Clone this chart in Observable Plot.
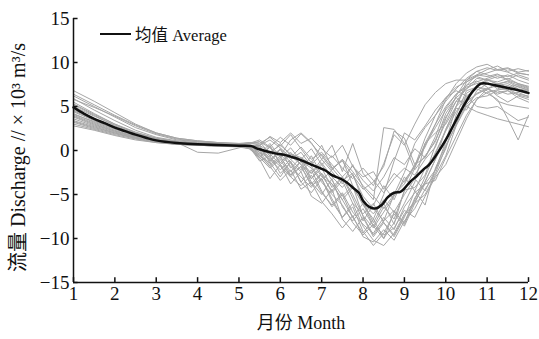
<!DOCTYPE html>
<html>
<head>
<meta charset="utf-8">
<script src="https://cdn.jsdelivr.net/npm/d3@7"></script>
<script src="https://cdn.jsdelivr.net/npm/@observablehq/plot@0.6"></script>
<style>
  body { margin: 0; background: #fff; }
  #wrap { position: relative; width: 539px; height: 339px; }
  #legend { position: absolute; left: 100px; top: 22px; font: 16.5px "Liberation Serif", "Noto Sans CJK SC", serif; color: #111; display: flex; align-items: center; }
  #legend span.line { display: inline-block; width: 31px; border-top: 2.5px solid #111; margin-right: 4px; }
</style>
</head>
<body>
<div id="wrap"><div id="legend"><span class="line"></span><span id="legtext"></span></div></div>
<script>
const xTicks = [1,2,3,4,5,6,7,8,9,10,11,12];
const yTicks = [-15,-10,-5,0,5,10,15];
const xLabel = "月份 Month";
const yLabel = "流量 Discharge // × 10³ m³/s";
const legendLabel = "均值 Average";

const grayMonths = [1,1.5,2,2.5,3,3.5,4,4.5,5,5.25,5.5,5.75,6,6.25,6.5,6.75,7,7.25,7.5,7.75,8,8.25,8.5,8.75,9,9.25,9.5,9.75,10,10.25,10.5,10.75,11,11.25,11.5,11.75,12];

const s1  = [6.8,5.6,4.3,3.0,2.0,1.4,1.1,0.9,0.8, 0.8,1.2,0.4,1.5,0.6,1.9,0.8,-0.6,-2.2,-1.0,-4.0,-7.5,-9.6,-8.0,-5.0,-2.5,0.8,2.6,4.0,5.6,7.0, 8.2,9.0,9.4,9.1,9.3,8.8,8.6];
const s2  = [6.2,5.0,3.8,2.6,1.8,1.2,1.0,0.8,0.7, 0.6,-0.2,-1.6,-0.6,-2.8,-1.8,-4.0,-3.2,-5.5,-7.6,-6.4,-9.2,-10.8,-9.4,-7.2,-8.6,-6.0,-3.5,-1.0,2.4,5.0, 7.8,8.5,8.8,9.2,8.9,8.4,8.0];
const s3  = [5.8,4.9,3.9,2.8,1.9,1.3,1.0,0.9,0.8, 0.9,0.8,1.5,0.5,1.8,0.2,-1.4,0.6,-2.0,-3.4,-2.6,-5.8,-8.2,-6.0,-8.4,-4.5,-4.2,-2.8,0.6,3.2,5.6, 7.0,8.2,8.0,7.8,8.2,7.6,7.3];
const s4  = [5.5,4.2,3.0,2.0,1.3,0.9,0.7,0.6,0.5, 0.4,-1.0,-3.2,-1.6,-3.8,-2.4,-5.2,-6.0,-4.4,-7.8,-9.2,-7.6,-9.8,-8.2,-9.6,-7.4,-6.0,-5.0,-2.8,-0.6,2.8, 6.5,7.2,7.0,6.6,6.8,6.3,6.0];
const s5  = [5.3,4.1,3.0,2.1,1.4,1.0,0.8,0.7,0.6, 0.8,1.0,0.3,-0.6,1.2,2.0,0.9,-1.0,0.6,-2.4,0.8,-2.6,-4.0,-1.5,1.8,0.6,3.0,5.2,6.6,7.6,8.0, 8.0,8.6,8.4,8.7,8.0,7.6,7.2];
const s6  = [5.0,3.9,2.9,2.0,1.4,1.0,0.8,0.7,0.6, 0.5,-0.6,-1.4,-3.0,-1.2,-3.6,-2.2,-4.6,-6.4,-5.0,-7.6,-9.4,-7.8,-10.0,-7.0,-8.2,-5.4,-3.6,-1.0,1.4,3.5, 5.9,7.4,8.1,7.5,7.9,7.4,7.0];
const s7  = [4.8,3.6,2.6,1.8,1.2,0.9,0.8,0.7,0.6, 0.6,0.4,-1.2,0.2,-1.0,-2.2,-0.6,-2.8,-4.6,-3.0,-5.4,-8.0,-6.2,-4.0,-5.6,-3.0,-4.6,-2.0,-0.4,2.4,4.8, 4.6,6.8,7.6,7.2,6.9,7.3,6.8];
const s8  = [4.6,3.6,2.7,1.9,1.3,0.9,-0.2,-0.3,0.3, 0.6,-0.4,-1.8,-3.4,-2.2,-4.4,-3.6,-5.8,-7.2,-8.8,-7.4,-9.8,-10.4,-9.0,-10.2,-8.0,-6.6,-4.4,-2.6,0.4,3.0, 5.2,6.5,7.0,6.4,6.8,6.0,5.5];
const s9  = [4.4,3.4,2.5,1.7,1.1,0.8,0.7,0.6,0.5, 0.4,0.6,-1.4,0.2,-2.0,-0.8,-3.2,-1.6,-3.4,-5.2,-4.0,-6.2,-7.8,-5.0,-1.2,2.0,1.2,2.8,4.6,6.0,6.8, 6.2,5.0,4.8,5.0,4.2,3.4,3.8];
const s10 = [4.2,3.2,2.4,1.7,1.2,0.9,0.7,0.6,0.5, 0.5,-0.8,0.6,-1.6,-2.8,-1.2,-3.6,-5.0,-3.2,-6.4,-8.0,-6.6,-8.6,-6.4,-7.8,-4.6,-2.0,0.8,3.0,5.0,6.4, 7.4,7.9,7.2,6.2,5.5,6.2,5.8];
const s11 = [4.0,3.1,2.3,1.6,1.1,0.8,0.7,0.6,0.5, 0.4,-1.2,-0.6,-2.6,-1.4,-3.6,-4.8,-3.2,-5.8,-7.6,-6.0,-8.6,-10.2,-10.8,-9.4,-7.2,-5.8,-3.8,-2.2,0.2,4.0, 6.8,7.2,6.8,5.6,5.2,5.0,4.8];
const s12 = [3.8,2.9,2.2,1.5,1.0,0.8,0.7,0.6,0.6, 0.7,1.0,-0.4,0.8,-0.6,-1.6,-2.6,-1.0,-2.4,-3.8,-1.6,-4.2,-5.6,2.6,2.4,0.8,-2.2,-0.6,1.0,4.2,6.0, 5.0,4.4,4.0,3.6,3.3,3.0,2.7];
const s13 = [3.6,2.8,2.1,1.5,1.0,0.7,0.6,0.5,0.5, 0.3,-0.8,-2.0,-1.0,-3.0,-4.0,-2.8,-4.8,-6.2,-4.8,-7.0,-8.4,-9.4,-7.6,-9.0,-6.4,-4.8,-3.8,-3.4,-0.8,1.6, 4.0,5.8,6.6,6.9,7.0,6.4,6.2];
const s14 = [3.4,2.7,2.0,1.4,1.0,0.7,0.6,0.5,0.5, 0.5,-0.2,-1.0,-0.4,-1.8,-3.0,-4.2,-2.6,-3.8,-5.6,-7.6,-6.0,-8.6,-10.0,-8.2,-6.0,-3.6,0.8,2.0,3.0,5.0, 6.2,7.0,6.5,5.8,3.6,1.2,4.0];
const s15 = [3.2,2.5,1.9,1.4,1.0,0.8,0.7,0.6,0.5, 0.4,0.2,-0.4,-1.6,-0.4,-0.8,-1.6,-0.4,-2.0,-1.2,-2.8,-4.4,-3.6,-1.8,2.2,1.4,-1.6,-0.8,1.2,3.8,5.6, 5.6,6.4,7.0,7.4,7.6,7.0,6.8];
const s16 = [3.0,2.4,1.8,1.3,0.9,0.7,0.6,0.5,0.4, 0.2,-0.8,0.4,-1.4,-0.2,-1.6,-3.2,-2.0,-4.2,-3.0,-5.0,-7.4,-8.8,-7.0,-5.2,-3.4,-1.8,0.6,2.6,4.6,6.0, 7.0,7.8,8.2,8.6,8.4,8.8,8.6];
const s17 = [2.8,2.3,1.7,1.2,0.9,0.7,0.6,0.5,0.5, 0.6,0.4,-0.6,0.1,-1.4,-2.4,-1.2,-3.0,-3.8,-5.6,-4.2,-6.0,-7.2,-5.6,-7.0,-5.0,-3.2,-4.6,-2.2,1.0,5.0, 7.4,8.6,9.2,9.6,9.0,9.3,9.0];
const s18 = [5.9,4.6,3.4,2.3,1.5,1.1,0.9,0.8,0.7, 0.9,0.6,1.6,0.9,2.0,0.8,1.4,0.2,-0.8,0.6,-1.8,-3.0,-2.4,-4.4,-2.6,-3.6,-1.6,0.4,3.0,5.8,7.6, 8.8,9.5,9.8,9.2,9.4,8.9,9.1];
const s19 = [4.5,3.5,2.6,1.8,1.2,0.9,0.8,0.7,0.6, 0.3,-0.4,0.8,-0.8,0.3,-1.2,-2.6,-1.4,-3.0,-4.2,-2.8,-5.2,-6.6,-8.0,-6.8,-8.4,-5.6,-3.0,-0.2,2.2,4.4, 6.0,7.2,8.0,8.4,8.1,8.6,8.2];
const s20 = [5.2,4.0,2.8,1.9,1.3,1.0,0.8,0.7,0.6, 0.7,0.0,-1.0,-2.2,-1.0,-0.2,-1.8,-3.4,-2.2,-1.0,-2.4,-4.0,-5.2,-6.6,-5.0,-3.8,-1.8,1.4,4.0,6.0,7.2, 7.8,8.4,8.0,7.6,7.8,7.2,6.9];
const s21 = [3.9,3.0,2.2,1.6,1.1,0.8,0.7,0.6,0.5, 0.2,-0.6,-1.8,-0.8,-2.4,-1.2,-2.0,-3.6,-5.0,-6.2,-8.2,-9.6,-8.4,-9.6,-8.8,-6.8,-7.6,-5.2,-3.0,-1.6,1.0, 3.6,5.8,7.0,7.6,7.2,7.5,7.1];
const s22 = [6.4,5.2,4.0,2.9,2.0,1.4,1.1,0.9,0.7, 0.6,0.6,-0.2,0.6,-0.4,-1.0,0.2,-1.6,-0.6,-2.0,-3.2,-2.0,-3.4,-4.8,-3.2,-2.0,-2.8,-1.0,0.4,3.6,6.2, 8.0,9.0,8.6,8.2,8.6,8.0,7.6];
const s23 = [3.3,2.6,2.0,1.4,1.0,0.8,0.7,0.6,0.5, 0.5,0.2,-0.8,-1.8,-3.0,-1.8,-3.8,-2.6,-4.8,-3.4,-6.0,-7.2,-6.0,-8.2,-9.8,-7.6,-4.6,-6.2,-2.0,0.6,2.8, 5.0,6.0,6.2,6.8,6.4,6.6,6.1];
const s24 = [4.1,3.3,2.5,1.8,1.3,0.9,0.7,0.6,0.5, 0.4,0.6,1.2,0.3,-0.8,0.4,-1.0,-0.2,-1.6,-3.0,-1.8,-3.4,-4.6,-3.0,-0.8,-1.6,0.2,-0.8,1.6,4.8,6.4, 7.2,7.6,7.8,7.0,7.4,6.8,6.4];

const avgMonth = [1,1.25,1.5,1.75,2,2.25,2.5,2.75,3,3.5,4,4.5,5,5.3,5.45,5.6,5.85,6.1,6.25,6.45,6.6,6.9,7.1,7.25,7.45,7.6,7.75,7.9,8.0,8.15,8.3,8.45,8.6,8.75,8.9,9.0,9.15,9.3,9.45,9.6,9.8,10.0,10.2,10.45,10.65,10.85,11.0,11.25,11.5,11.75,12];
const avgValue = [4.9,4.2,3.6,3.1,2.6,2.2,1.8,1.45,1.15,0.85,0.72,0.63,0.55,0.5,0.2,0.0,-0.3,-0.5,-0.7,-1.0,-1.3,-1.9,-2.3,-2.8,-3.2,-3.6,-4.2,-4.8,-5.7,-6.4,-6.6,-6.2,-5.3,-4.8,-4.7,-4.3,-3.5,-2.9,-2.2,-1.6,-0.3,1.2,3.0,5.2,6.7,7.6,7.6,7.35,7.1,6.85,6.55];

document.getElementById("legtext").textContent = legendLabel;

const series = [s1,s2,s3,s4,s5,s6,s7,s8,s9,s10,s11,s12,s13,s14,s15,s16,s17,s18,s19,s20,s21,s22,s23,s24];
const grayRows = series.flatMap((s, i) => s.map((v, j) => ({year: i, month: grayMonths[j], value: v})));
const avgRows = avgMonth.map((m, i) => ({month: m, value: avgValue[i]}));

const font = '"Liberation Serif", "Noto Sans CJK SC", serif';

const chart = Plot.plot({
  width: 539,
  height: 339,
  marginLeft: 73,
  marginRight: 11,
  marginTop: 18,
  marginBottom: 57,
  style: {fontFamily: font, background: "#fff", color: "#111"},
  x: {domain: [1, 12]},
  y: {domain: [-15, 15]},
  marks: [
    Plot.line(grayRows, {x: "month", y: "value", z: "year", stroke: "#a6a6a6", strokeWidth: 1, curve: "linear"}),
    Plot.line(avgRows, {x: "month", y: "value", stroke: "#111", strokeWidth: 2.5, curve: "catmull-rom"}),
    Plot.ruleX([1], {stroke: "#111", strokeWidth: 1.5}),
    Plot.ruleY([-15], {stroke: "#111", strokeWidth: 1.5}),
    Plot.ruleX(xTicks, {x: d => d, y1: -15, y2: -14.45, stroke: "#111", strokeWidth: 1.5}),
    Plot.ruleY(yTicks, {y: d => d, x1: 1, x2: 1.11, stroke: "#111", strokeWidth: 1.5}),
    Plot.axisX({ticks: xTicks, tickSize: 0, tickPadding: 4, fontSize: 19, label: null, tickFormat: d => String(d)}),
    Plot.axisY({ticks: yTicks, tickSize: 0, tickPadding: 4, fontSize: 19, label: null, tickFormat: d => d < 0 ? "\u2212" + Math.abs(d) : String(d)}),
    Plot.text([xLabel], {frameAnchor: "bottom", dy: 46, fontSize: 18, fill: "#111"}),
    Plot.text([yLabel], {frameAnchor: "left", dx: -55, dy: 7, rotate: -90, textAnchor: "middle", fontSize: 20, fill: "#111"})
  ]
});
document.getElementById("wrap").prepend(chart);
</script>
</body>
</html>
